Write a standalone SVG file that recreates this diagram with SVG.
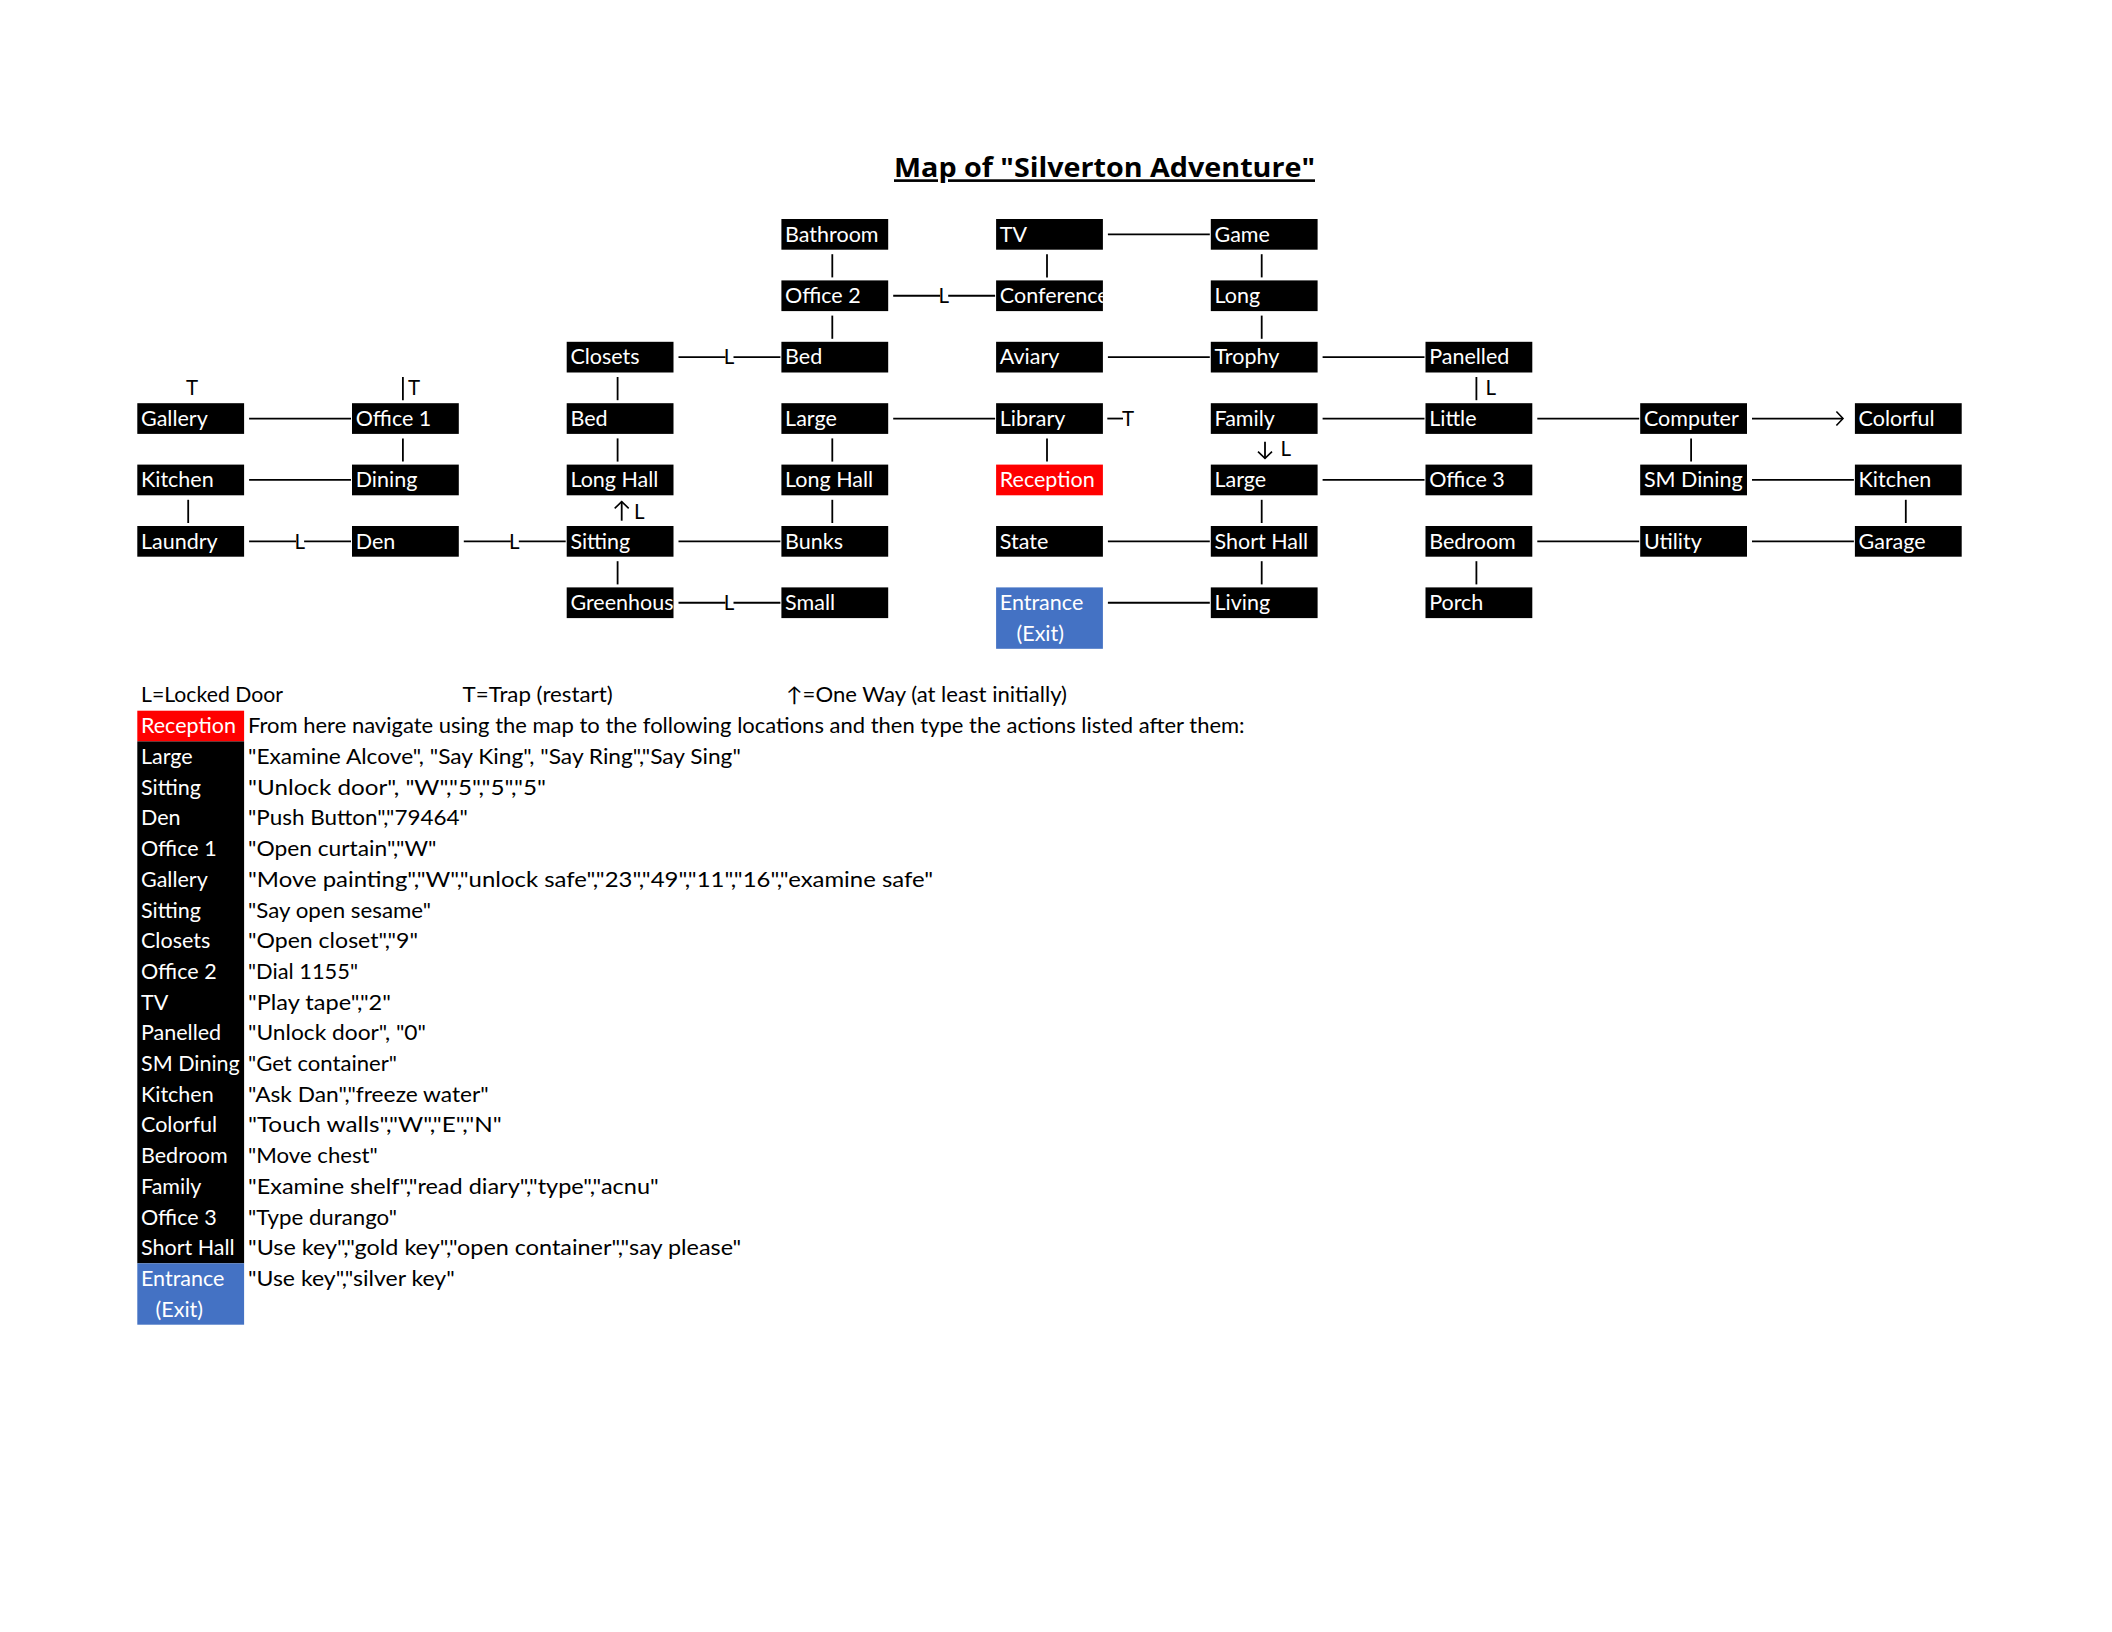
<svg xmlns="http://www.w3.org/2000/svg" width="2112" height="1632" viewBox="0 0 2112 1632">
<style>
.box{fill:#000}
.red{fill:#ff0000}
.blue{fill:#4472c4}
.nt{font-family:Lato,"Liberation Sans",sans-serif;font-size:21.5px;fill:#fff}
.bt{font-family:Lato,"Liberation Sans",sans-serif;font-size:20.5px;fill:#000}
.title{font-family:"Open Sans",Lato,"Liberation Sans",sans-serif;font-size:26.5px;font-weight:bold;fill:#000;text-decoration:underline}
.c line{stroke:#000;stroke-width:1.8;fill:none}
</style>
<defs>
<marker id="chev" viewBox="-10 -10 20 20" markerWidth="20" markerHeight="20" refX="0" refY="0" orient="auto" markerUnits="userSpaceOnUse">
<path d="M-6.6,-7 L0,0 L-6.6,7" fill="none" stroke="#000" stroke-width="1.6"/>
</marker>
<clipPath id="clipConf"><rect x="996.1" y="280.4" width="106.8" height="30.7"/></clipPath>
<clipPath id="clipGreen"><rect x="566.7" y="587.4" width="106.8" height="30.7"/></clipPath>
</defs>
<rect width="2112" height="1632" fill="#fff"/>
<text class="title" x="894" y="177.3" textLength="421" lengthAdjust="spacingAndGlyphs">Map of "Silverton Adventure"</text>

<g id="connectors" class="c">
<line x1="1107.9" y1="234.35" x2="1209.8" y2="234.35"/>
<line x1="1107.9" y1="357.15" x2="1209.8" y2="357.15"/>
<line x1="1322.6" y1="357.15" x2="1424.5" y2="357.15"/>
<line x1="249.1" y1="418.55" x2="351" y2="418.55"/>
<line x1="893.2" y1="418.55" x2="995.1" y2="418.55"/>
<line x1="1322.6" y1="418.55" x2="1424.5" y2="418.55"/>
<line x1="1537.3" y1="418.55" x2="1639.2" y2="418.55"/>
<line x1="1752" y1="418.55" x2="1843" y2="418.55" marker-end="url(#chev)"/>
<line x1="249.1" y1="479.95" x2="351" y2="479.95"/>
<line x1="1322.6" y1="479.95" x2="1424.5" y2="479.95"/>
<line x1="1752" y1="479.95" x2="1853.9" y2="479.95"/>
<line x1="678.5" y1="541.35" x2="780.4" y2="541.35"/>
<line x1="1107.9" y1="541.35" x2="1209.8" y2="541.35"/>
<line x1="1537.3" y1="541.35" x2="1639.2" y2="541.35"/>
<line x1="1752" y1="541.35" x2="1853.9" y2="541.35"/>
<line x1="1107.9" y1="602.75" x2="1209.8" y2="602.75"/>
<line x1="893.2" y1="295.75" x2="940.2" y2="295.75"/><line x1="948.2" y1="295.75" x2="995.1" y2="295.75"/>
<line x1="678.5" y1="357.15" x2="725.5" y2="357.15"/><line x1="733.5" y1="357.15" x2="780.4" y2="357.15"/>
<line x1="249.1" y1="541.35" x2="296.1" y2="541.35"/><line x1="304.1" y1="541.35" x2="351" y2="541.35"/>
<line x1="463.8" y1="541.35" x2="510.8" y2="541.35"/><line x1="518.8" y1="541.35" x2="565.7" y2="541.35"/>
<line x1="678.5" y1="602.75" x2="725.5" y2="602.75"/><line x1="733.5" y1="602.75" x2="780.4" y2="602.75"/>
<line x1="188.2" y1="499.8" x2="188.2" y2="523"/>
<line x1="402.9" y1="377" x2="402.9" y2="400.2"/>
<line x1="402.9" y1="438.4" x2="402.9" y2="461.6"/>
<line x1="617.6" y1="377" x2="617.6" y2="400.2"/>
<line x1="617.6" y1="438.4" x2="617.6" y2="461.6"/>
<line x1="617.6" y1="561.2" x2="617.6" y2="584.4"/>
<line x1="832.3" y1="254.2" x2="832.3" y2="277.4"/>
<line x1="832.3" y1="315.6" x2="832.3" y2="338.8"/>
<line x1="832.3" y1="438.4" x2="832.3" y2="461.6"/>
<line x1="832.3" y1="499.8" x2="832.3" y2="523"/>
<line x1="1047" y1="254.2" x2="1047" y2="277.4"/>
<line x1="1047" y1="438.4" x2="1047" y2="461.6"/>
<line x1="1261.7" y1="254.2" x2="1261.7" y2="277.4"/>
<line x1="1261.7" y1="315.6" x2="1261.7" y2="338.8"/>
<line x1="1261.7" y1="499.8" x2="1261.7" y2="523"/>
<line x1="1261.7" y1="561.2" x2="1261.7" y2="584.4"/>
<line x1="1476.4" y1="377" x2="1476.4" y2="400.2"/>
<line x1="1476.4" y1="561.2" x2="1476.4" y2="584.4"/>
<line x1="1691.1" y1="438.4" x2="1691.1" y2="461.6"/>
<line x1="1905.8" y1="499.8" x2="1905.8" y2="523"/>
<line x1="621.7" y1="520.7" x2="621.7" y2="501.7" marker-end="url(#chev)"/>
<line x1="1265" y1="441.7" x2="1265" y2="458.3" marker-end="url(#chev)"/>
<line x1="1107.3" y1="418.55" x2="1123" y2="418.55"/>
<text class="bt" x="938.5" y="303">L</text>
<text class="bt" x="723.8" y="364.4">L</text>
<text class="bt" x="294.4" y="548.6">L</text>
<text class="bt" x="509.1" y="548.6">L</text>
<text class="bt" x="723.8" y="610">L</text>
<text class="bt" x="634" y="518.5">L</text>
<text class="bt" x="1280.5" y="456">L</text>
<text class="bt" x="1485.5" y="394.5">L</text>
<text class="bt" x="186" y="395">T</text>
<text class="bt" x="408" y="395">T</text>
<text class="bt" x="1122" y="426">T</text>
</g>

<g id="n-bathroom"><rect class="box" x="781.4" y="219" width="106.8" height="30.7"/><text class="nt" x="785.1" y="241.6">Bathroom</text></g>
<g id="n-tv"><rect class="box" x="996.1" y="219" width="106.8" height="30.7"/><text class="nt" x="999.8" y="241.6">TV</text></g>
<g id="n-game"><rect class="box" x="1210.8" y="219" width="106.8" height="30.7"/><text class="nt" x="1214.5" y="241.6">Game</text></g>

<g id="n-office2"><rect class="box" x="781.4" y="280.4" width="106.8" height="30.7"/><text class="nt" x="785.1" y="303">Office 2</text></g>
<g id="n-conference"><rect class="box" x="996.1" y="280.4" width="106.8" height="30.7"/><text class="nt" x="999.8" y="303" clip-path="url(#clipConf)">Conference</text></g>
<g id="n-long"><rect class="box" x="1210.8" y="280.4" width="106.8" height="30.7"/><text class="nt" x="1214.5" y="303">Long</text></g>

<g id="n-closets"><rect class="box" x="566.7" y="341.8" width="106.8" height="30.7"/><text class="nt" x="570.4" y="364.4">Closets</text></g>
<g id="n-bed2"><rect class="box" x="781.4" y="341.8" width="106.8" height="30.7"/><text class="nt" x="785.1" y="364.4">Bed</text></g>
<g id="n-aviary"><rect class="box" x="996.1" y="341.8" width="106.8" height="30.7"/><text class="nt" x="999.8" y="364.4">Aviary</text></g>
<g id="n-trophy"><rect class="box" x="1210.8" y="341.8" width="106.8" height="30.7"/><text class="nt" x="1214.5" y="364.4">Trophy</text></g>
<g id="n-panelled"><rect class="box" x="1425.5" y="341.8" width="106.8" height="30.7"/><text class="nt" x="1429.2" y="364.4">Panelled</text></g>

<g id="n-gallery"><rect class="box" x="137.3" y="403.2" width="106.8" height="30.7"/><text class="nt" x="141" y="425.8">Gallery</text></g>
<g id="n-office1"><rect class="box" x="352" y="403.2" width="106.8" height="30.7"/><text class="nt" x="355.7" y="425.8">Office 1</text></g>
<g id="n-bed1"><rect class="box" x="566.7" y="403.2" width="106.8" height="30.7"/><text class="nt" x="570.4" y="425.8">Bed</text></g>
<g id="n-large1"><rect class="box" x="781.4" y="403.2" width="106.8" height="30.7"/><text class="nt" x="785.1" y="425.8">Large</text></g>
<g id="n-library"><rect class="box" x="996.1" y="403.2" width="106.8" height="30.7"/><text class="nt" x="999.8" y="425.8">Library</text></g>
<g id="n-family"><rect class="box" x="1210.8" y="403.2" width="106.8" height="30.7"/><text class="nt" x="1214.5" y="425.8">Family</text></g>
<g id="n-little"><rect class="box" x="1425.5" y="403.2" width="106.8" height="30.7"/><text class="nt" x="1429.2" y="425.8">Little</text></g>
<g id="n-computer"><rect class="box" x="1640.2" y="403.2" width="106.8" height="30.7"/><text class="nt" x="1643.9" y="425.8">Computer</text></g>
<g id="n-colorful"><rect class="box" x="1854.9" y="403.2" width="106.8" height="30.7"/><text class="nt" x="1858.6" y="425.8">Colorful</text></g>

<g id="n-kitchen1"><rect class="box" x="137.3" y="464.6" width="106.8" height="30.7"/><text class="nt" x="141" y="487.2">Kitchen</text></g>
<g id="n-dining"><rect class="box" x="352" y="464.6" width="106.8" height="30.7"/><text class="nt" x="355.7" y="487.2">Dining</text></g>
<g id="n-longhall1"><rect class="box" x="566.7" y="464.6" width="106.8" height="30.7"/><text class="nt" x="570.4" y="487.2">Long Hall</text></g>
<g id="n-longhall2"><rect class="box" x="781.4" y="464.6" width="106.8" height="30.7"/><text class="nt" x="785.1" y="487.2">Long Hall</text></g>
<g id="n-reception"><rect class="red" x="996.1" y="464.6" width="106.8" height="30.7"/><text class="nt" x="999.8" y="487.2">Reception</text></g>
<g id="n-large2"><rect class="box" x="1210.8" y="464.6" width="106.8" height="30.7"/><text class="nt" x="1214.5" y="487.2">Large</text></g>
<g id="n-office3"><rect class="box" x="1425.5" y="464.6" width="106.8" height="30.7"/><text class="nt" x="1429.2" y="487.2">Office 3</text></g>
<g id="n-smdining"><rect class="box" x="1640.2" y="464.6" width="106.8" height="30.7"/><text class="nt" x="1643.9" y="487.2">SM Dining</text></g>
<g id="n-kitchen2"><rect class="box" x="1854.9" y="464.6" width="106.8" height="30.7"/><text class="nt" x="1858.6" y="487.2">Kitchen</text></g>

<g id="n-laundry"><rect class="box" x="137.3" y="526" width="106.8" height="30.7"/><text class="nt" x="141" y="548.6">Laundry</text></g>
<g id="n-den"><rect class="box" x="352" y="526" width="106.8" height="30.7"/><text class="nt" x="355.7" y="548.6">Den</text></g>
<g id="n-sitting"><rect class="box" x="566.7" y="526" width="106.8" height="30.7"/><text class="nt" x="570.4" y="548.6">Sitting</text></g>
<g id="n-bunks"><rect class="box" x="781.4" y="526" width="106.8" height="30.7"/><text class="nt" x="785.1" y="548.6">Bunks</text></g>
<g id="n-state"><rect class="box" x="996.1" y="526" width="106.8" height="30.7"/><text class="nt" x="999.8" y="548.6">State</text></g>
<g id="n-shorthall"><rect class="box" x="1210.8" y="526" width="106.8" height="30.7"/><text class="nt" x="1214.5" y="548.6">Short Hall</text></g>
<g id="n-bedroom"><rect class="box" x="1425.5" y="526" width="106.8" height="30.7"/><text class="nt" x="1429.2" y="548.6">Bedroom</text></g>
<g id="n-utility"><rect class="box" x="1640.2" y="526" width="106.8" height="30.7"/><text class="nt" x="1643.9" y="548.6">Utility</text></g>
<g id="n-garage"><rect class="box" x="1854.9" y="526" width="106.8" height="30.7"/><text class="nt" x="1858.6" y="548.6">Garage</text></g>

<g id="n-greenhouse"><rect class="box" x="566.7" y="587.4" width="106.8" height="30.7"/><text class="nt" x="570.4" y="610" clip-path="url(#clipGreen)">Greenhouse</text></g>
<g id="n-small"><rect class="box" x="781.4" y="587.4" width="106.8" height="30.7"/><text class="nt" x="785.1" y="610">Small</text></g>
<g id="n-entrance"><rect class="blue" x="996.1" y="587.4" width="106.8" height="61.4"/><text class="nt" x="999.8" y="610">Entrance</text><text class="nt" x="1016.5" y="640.7">(Exit)</text></g>
<g id="n-living"><rect class="box" x="1210.8" y="587.4" width="106.8" height="30.7"/><text class="nt" x="1214.5" y="610">Living</text></g>
<g id="n-porch"><rect class="box" x="1425.5" y="587.4" width="106.8" height="30.7"/><text class="nt" x="1429.2" y="610">Porch</text></g>

<g id="legend">
<text class="bt" x="141" y="702.3" textLength="142" lengthAdjust="spacingAndGlyphs">L=Locked Door</text>
<text class="bt" x="462.6" y="702.3" textLength="150" lengthAdjust="spacingAndGlyphs">T=Trap (restart)</text>
<text class="bt" x="786" y="702.3" textLength="281" lengthAdjust="spacingAndGlyphs">↑=One Way (at least initially)</text>
</g>

<g id="table">
<rect class="red" x="137.3" y="710.7" width="106.8" height="30.7"/>
<rect class="box" x="137.3" y="741.4" width="106.8" height="521.9"/>
<rect class="blue" x="137.3" y="1263.3" width="106.8" height="61.4"/>
<text class="nt" x="141" y="733.3">Reception</text>
<text class="nt" x="141" y="764">Large</text>
<text class="nt" x="141" y="794.7">Sitting</text>
<text class="nt" x="141" y="825.4">Den</text>
<text class="nt" x="141" y="856.1">Office 1</text>
<text class="nt" x="141" y="886.8">Gallery</text>
<text class="nt" x="141" y="917.5">Sitting</text>
<text class="nt" x="141" y="948.2">Closets</text>
<text class="nt" x="141" y="978.9">Office 2</text>
<text class="nt" x="141" y="1009.6">TV</text>
<text class="nt" x="141" y="1040.3">Panelled</text>
<text class="nt" x="141" y="1071">SM Dining</text>
<text class="nt" x="141" y="1101.7">Kitchen</text>
<text class="nt" x="141" y="1132.4">Colorful</text>
<text class="nt" x="141" y="1163.1">Bedroom</text>
<text class="nt" x="141" y="1193.8">Family</text>
<text class="nt" x="141" y="1224.5">Office 3</text>
<text class="nt" x="141" y="1255.2">Short Hall</text>
<text class="nt" x="141" y="1285.9">Entrance</text>
<text class="nt" x="155.6" y="1316.6">(Exit)</text>
<text class="bt" x="248" y="733.3" textLength="996.6" lengthAdjust="spacingAndGlyphs">From here navigate using the map to the following locations and then type the actions listed after them:</text>
<text class="bt" x="248" y="764" textLength="492.8" lengthAdjust="spacingAndGlyphs">"Examine Alcove", "Say King", "Say Ring","Say Sing"</text>
<text class="bt" x="248" y="794.7" textLength="298" lengthAdjust="spacingAndGlyphs">"Unlock door", "W","5","5","5"</text>
<text class="bt" x="248" y="825.4" textLength="219.8" lengthAdjust="spacingAndGlyphs">"Push Button","79464"</text>
<text class="bt" x="248" y="856.1" textLength="188.4" lengthAdjust="spacingAndGlyphs">"Open curtain","W"</text>
<text class="bt" x="248" y="886.8" textLength="685" lengthAdjust="spacingAndGlyphs">"Move painting","W","unlock safe","23","49","11","16","examine safe"</text>
<text class="bt" x="248" y="917.5" textLength="183" lengthAdjust="spacingAndGlyphs">"Say open sesame"</text>
<text class="bt" x="248" y="948.2" textLength="170" lengthAdjust="spacingAndGlyphs">"Open closet","9"</text>
<text class="bt" x="248" y="978.9" textLength="110" lengthAdjust="spacingAndGlyphs">"Dial 1155"</text>
<text class="bt" x="248" y="1009.6" textLength="143" lengthAdjust="spacingAndGlyphs">"Play tape","2"</text>
<text class="bt" x="248" y="1040.3" textLength="178" lengthAdjust="spacingAndGlyphs">"Unlock door", "0"</text>
<text class="bt" x="248" y="1071" textLength="149" lengthAdjust="spacingAndGlyphs">"Get container"</text>
<text class="bt" x="248" y="1101.7" textLength="240.7" lengthAdjust="spacingAndGlyphs">"Ask Dan","freeze water"</text>
<text class="bt" x="248" y="1132.4" textLength="253.8" lengthAdjust="spacingAndGlyphs">"Touch walls","W","E","N"</text>
<text class="bt" x="248" y="1163.1" textLength="129.8" lengthAdjust="spacingAndGlyphs">"Move chest"</text>
<text class="bt" x="248" y="1193.8" textLength="410.7" lengthAdjust="spacingAndGlyphs">"Examine shelf","read diary","type","acnu"</text>
<text class="bt" x="248" y="1224.5" textLength="149" lengthAdjust="spacingAndGlyphs">"Type durango"</text>
<text class="bt" x="248" y="1255.2" textLength="493.3" lengthAdjust="spacingAndGlyphs">"Use key","gold key","open container","say please"</text>
<text class="bt" x="248" y="1285.9" textLength="206.7" lengthAdjust="spacingAndGlyphs">"Use key","silver key"</text>
</g>
</svg>
